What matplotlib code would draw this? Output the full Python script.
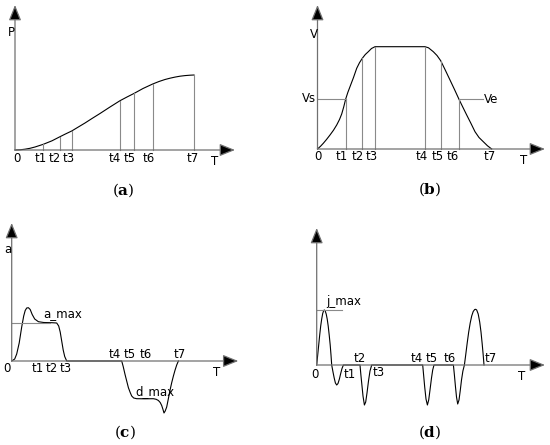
import matplotlib
matplotlib.use("Agg")
import matplotlib.pyplot as plt

plt.rcParams["font.family"] = ["DejaVu Sans"]
plt.rcParams["mathtext.fontset"] = "dejavuserif"

W, H = 550, 445

# (a) position curve (time, P)
t_a = [28.3, 45, 56.7, 105, 119.3, 137.7, 179]
p_x = [0, 5, 10, 15, 20, 28.3, 37, 45, 50, 56.7, 63, 70, 77, 85, 95, 105, 112, 119.3,
       128, 137.7, 144, 150, 155, 160, 165, 170, 175, 179]
p_y = [0, 0.2, 0.8, 1.7, 3.0, 5.7, 9.2, 13.3, 15.8, 19, 22.8, 27, 31.5, 36.5, 43, 49.3,
       53, 56.7, 61.5, 66, 68.5, 70.5, 71.8, 72.9, 73.8, 74.4, 74.8, 75]

# (b) velocity curve
t_b = [28.2, 44.8, 57.5, 107.5, 123.2, 141.5, 174.2]
v_x = [0, 3, 5.8, 9, 12.5, 16, 19.2, 22, 24.2, 26.2, 28.2, 30.3, 32.5, 36, 39.2, 42, 44.8,
       47.8, 50.8, 54, 57.5,
       107.5, 111, 115.8, 119.5, 123.2, 127.5, 132.5, 137, 141.5, 145.5, 149.2, 153.5,
       157.5, 161.5, 165.8, 170, 174.2]
v_y = [0, 2.7, 5.7, 9.5, 14, 18.8, 24, 29.5, 35, 42, 50, 56.5, 62.3, 71.5, 80.7, 86.3, 90.7,
       94.5, 97.3, 100.5, 102.3,
       102.3, 101.2, 97.3, 93.5, 88.3, 79.5, 69, 59.5, 49.7, 41.5, 34, 25.5,
       17.3, 11.5, 7.3, 3.2, 0]
vs_level = 50
ve_level = 49.7

# (c) acceleration curve
a_x = [0, 3, 5, 7.5, 10, 12, 13.5, 15, 16.7, 18.5, 20.5, 23, 26.7, 32, 40, 45, 47, 48.5,
       50, 51.5, 53, 55,
       110, 111.5, 113.3, 115, 116.7, 118.5, 120, 122, 125, 133, 141.7, 144.5, 146.7, 148.5,
       150, 151.3, 152.3, 153.5, 155, 156.5, 158.3, 160, 161.7, 163.3, 165, 166.7]
a_y = [0, 2, 7, 18, 34, 45, 50.5, 53, 53.3, 51.5, 46.5, 42, 39.3, 38.5, 38.3, 38, 35, 29,
       20, 11, 4.5, 0,
       0, -5.5, -13.3, -20, -26.7, -31.5, -35, -37, -37.7, -37.8, -37.7, -38.3, -39.5, -41.5,
       -44.5, -48.5, -52, -50, -46, -38.5, -29.3, -21.7, -15, -9.3, -4, 0]
a_max = 38.3

# (d) jerk curve
j_x = [0, 1, 2, 3, 4, 5, 6, 7, 7.7, 8.5, 9.5, 10.5, 11.5, 12.5, 13.5, 14.3, 15,
       16.3, 17.5, 18.7, 20, 21.3, 22.7, 24, 25.3, 26.7,
       43.3, 44.2, 45.2, 46.3, 47.7, 49, 50.3, 51.8, 53.3, 55,
       106, 107, 108, 109.3, 110.7, 112, 113.3, 114.8, 116, 117.3,
       136.7, 137.7, 138.7, 139.8, 141, 142.3, 143.5, 144.8, 146.2, 147.7,
       149, 150.5, 152, 153.5, 155, 156.5, 158, 159, 160, 161.5, 163, 164.3, 165.5, 166.5, 167.3]
j_y = [0, 10, 20, 30, 39, 46, 51.5, 54.5, 55, 54, 51, 46, 39, 30, 20, 10, 0,
       -7, -13, -18, -20, -18.5, -14, -8.5, -3.5, 0,
       0, -10, -20, -31, -40, -37, -28, -16, -6, 0,
       0, -11, -22, -34, -40, -35, -25, -13, -5, 0,
       0, -10, -21, -32, -39, -35, -26, -15, -6, 0,
       10, 22, 33, 42, 49, 53.5, 55.5, 55.7, 55, 51, 43, 33, 21, 10, 0]
j_max = 55

labels_a = ["0", "t1", "t2", "t3", "t4", "t5", "t6", "t7"]


def panel(box, origin, ytip, xtip):
    x0, y0, x1, y1 = box
    ax = fig.add_axes([x0 / W, 1 - y1 / H, (x1 - x0) / W, (y1 - y0) / H])
    ax.set_xlim(x0 - origin[0], x1 - origin[0])
    ax.set_ylim(origin[1] - y1, origin[1] - y0)
    ax.axis("off")
    arrow = dict(arrowstyle="-|>,head_length=0.47,head_width=0.19", mutation_scale=20,
                 fc="black", ec="#707070", lw=0.9, shrinkA=0, shrinkB=0)
    ax.annotate("", xy=(0, ytip), xytext=(0, 0), arrowprops=arrow)
    ax.annotate("", xy=(xtip, 0), xytext=(0, 0), arrowprops=arrow)
    return ax


def nearest(xs, ys, t):
    i = min(range(len(xs)), key=lambda k: abs(xs[k] - t))
    return ys[i]


fig = plt.figure(figsize=(W / 100, H / 100), dpi=100)
fs = 8.5
gray = "#8a8a8a"
cap = 11

# ---- (a)
ax = panel((0, 0, 275, 222), (15, 150), 145, 220)
ax.plot(p_x, p_y, color="black", lw=0.8)
for t in t_a:
    ax.plot([t, t], [0, nearest(p_x, p_y, t)], color=gray, lw=0.8)
ax.text(2.3, -1.5, "0", fontsize=fs, ha="center", va="top")
for lab, t, dx in zip(labels_a[1:], t_a, [-2.6, -5.7, -3.4, -5, -4.3, -3.7, -1.3]):
    ax.text(t + dx, -1.5, lab, fontsize=fs, ha="center", va="top")
ax.text(-3.3, 117, "P", fontsize=fs, ha="center", va="center")
ax.text(200, -11.7, "T", fontsize=fs, ha="center", va="center")
ax.text(108, -40, r"($\mathbf{a}$)", fontsize=cap, family="DejaVu Serif", ha="center", va="center")

# ---- (b)
ax = panel((275, 0, 550, 222), (317.5, 149), 144, 227.5)
ax.plot(v_x, v_y, color="black", lw=0.8)
for t in t_b[:-1]:
    ax.plot([t, t], [0, nearest(v_x, v_y, t)], color=gray, lw=0.8)
ax.plot([0, t_b[0]], [vs_level, vs_level], color=gray, lw=0.8)
ax.plot([t_b[5], 165.8], [ve_level, ve_level], color=gray, lw=0.8)
ax.text(0, -1.5, "0", fontsize=fs, ha="center", va="top")
for lab, t, dx in zip(labels_a[1:], t_b, [-3.6, -5, -3.7, -3.5, -2.5, -5.8, -1.9]):
    ax.text(t + dx, -1.5, lab, fontsize=fs, ha="center", va="top")
ax.text(-1, vs_level, "Vs", fontsize=fs, ha="right", va="center")
ax.text(166.5, ve_level, "Ve", fontsize=fs, ha="left", va="center")
ax.text(-3.3, 115, "V", fontsize=fs, ha="center", va="center")
ax.text(205.7, -11.7, "T", fontsize=fs, ha="center", va="center")
ax.text(112.5, -40, r"($\mathbf{b}$)", fontsize=cap, family="DejaVu Serif", ha="center", va="center")

# ---- (c)
ax = panel((0, 222, 275, 445), (11.7, 361), 138, 226.6)
ax.plot(a_x, a_y, color="black", lw=0.8)
ax.plot([0, 38.3], [a_max, a_max], color=gray, lw=0.8)
ax.text(-4.3, -1.5, "0", fontsize=fs, ha="center", va="top")
for lab, x in zip(["t1", "t2", "t3"], [25.7, 40, 54]):
    ax.text(x, -1.5, lab, fontsize=fs, ha="center", va="top")
for lab, x in zip(["t4", "t5", "t6", "t7"], [103.3, 118.3, 134, 168.3]):
    ax.text(x, 0.5, lab, fontsize=fs, ha="center", va="bottom")
ax.text(31.7, 47, "a_max", fontsize=fs, ha="left", va="center")
ax.text(123.3, -31, "d_max", fontsize=fs, ha="left", va="center")
ax.text(-4.3, 111, "a", fontsize=fs, ha="center", va="center")
ax.text(205, -11, "T", fontsize=fs, ha="center", va="center")
ax.text(113.3, -71, r"($\mathbf{c}$)", fontsize=cap, family="DejaVu Serif", ha="center", va="center")

# ---- (d)
ax = panel((275, 222, 550, 445), (316.7, 365), 137, 228.3)
ax.plot(j_x, j_y, color="black", lw=0.8)
ax.plot([0, 25.7], [j_max, j_max], color=gray, lw=0.8)
ax.text(-1.7, -3, "0", fontsize=fs, ha="center", va="top")
ax.text(27, -3, "t1", fontsize=fs, ha="left", va="top")
ax.text(56, -1, "t3", fontsize=fs, ha="left", va="top")
for lab, x in zip(["t2", "t4", "t5", "t6", "t7"], [42.7, 100, 115, 133.3, 174.3]):
    ax.text(x, 0.5, lab, fontsize=fs, ha="center", va="bottom")
ax.text(10, 63.3, "j_max", fontsize=fs, ha="left", va="center")
ax.text(205, -11, "T", fontsize=fs, ha="center", va="center")
ax.text(113.3, -66.7, r"($\mathbf{d}$)", fontsize=cap, family="DejaVu Serif", ha="center", va="center")

fig.savefig("out.png", dpi=100)
